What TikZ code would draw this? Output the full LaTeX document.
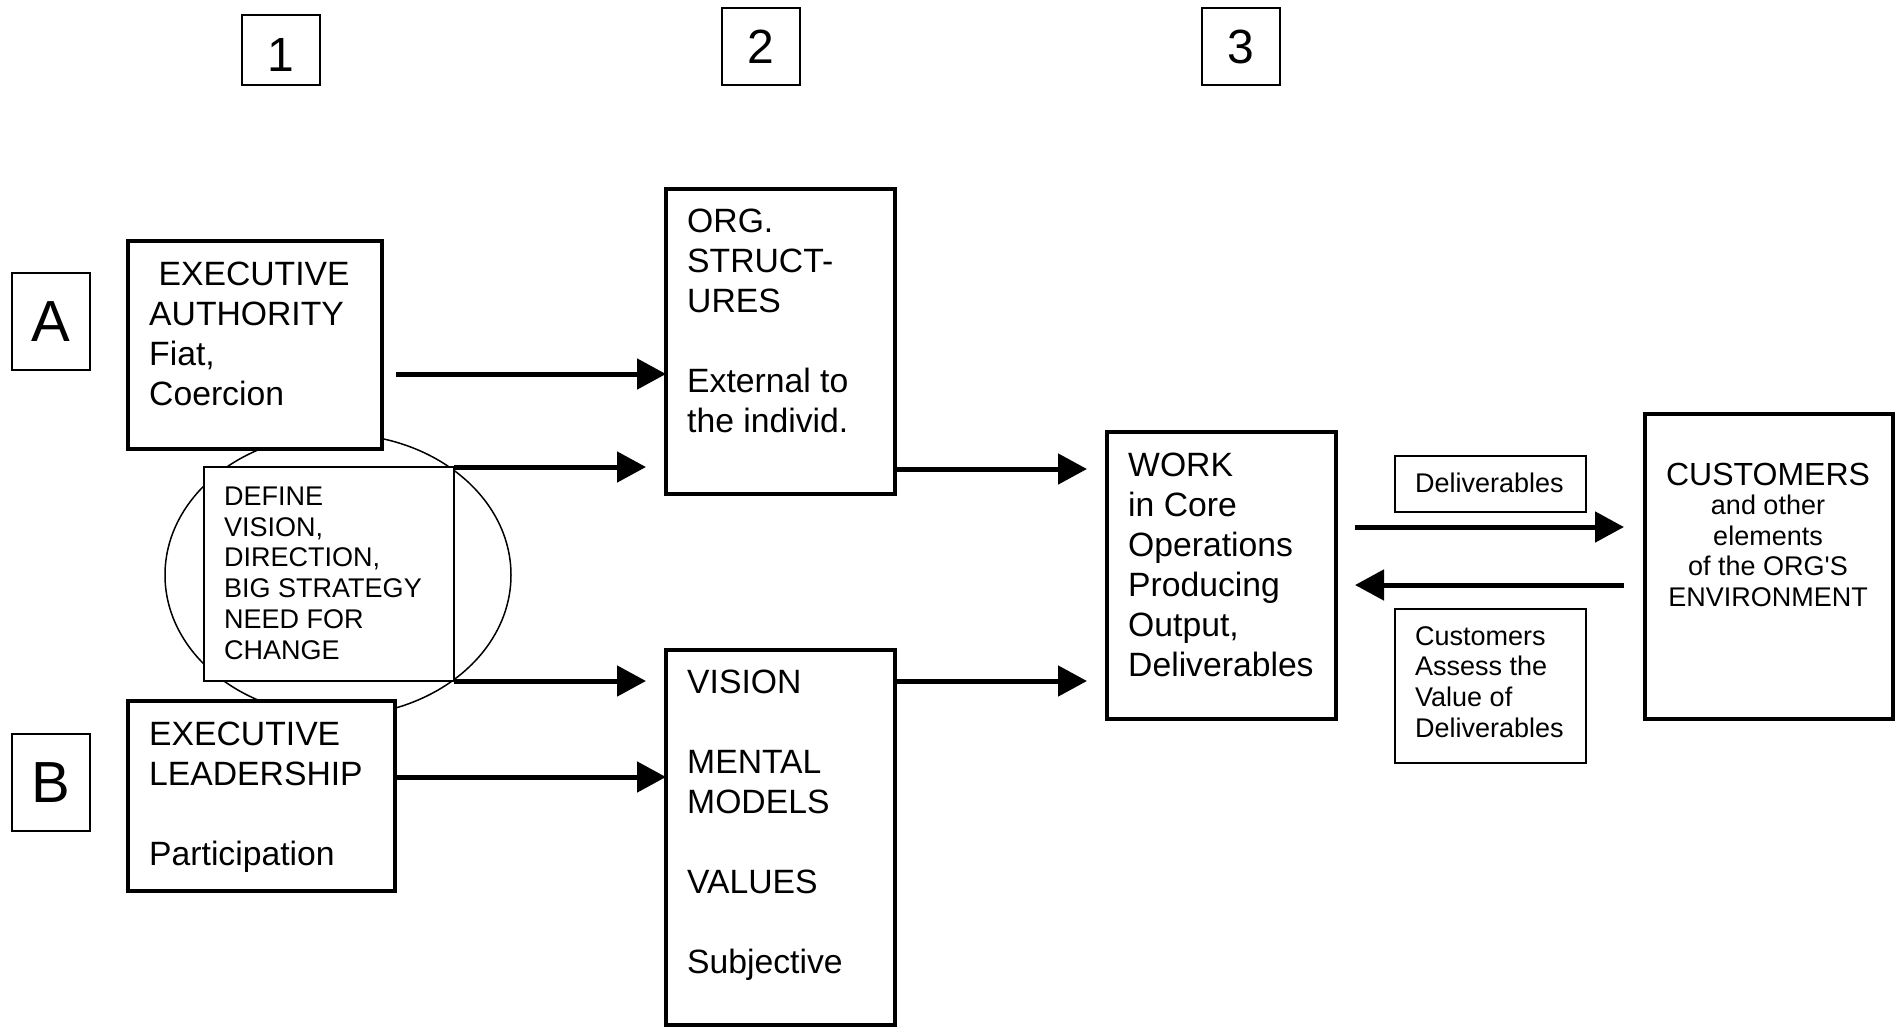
\documentclass[tikz,border=0pt]{standalone}
\usepackage{fontspec}
\setmainfont{Liberation Sans}[Ligatures=TeXOff]
\usetikzlibrary{arrows.meta,calc,shapes.geometric}

\newcommand\bigtxt{\fontsize{33.7pt}{40pt}\selectfont}
\newcommand\smalltxt{\fontsize{27pt}{30.8pt}\selectfont}
\newcommand\numtxt{\fontsize{48pt}{52pt}\selectfont}
\newcommand\lettxt{\fontsize{58pt}{62pt}\selectfont}

\tikzset{
  heavybox/.style={draw, line width=4pt, fill=white, inner sep=0pt, outer sep=0pt},
  lightbox/.style={draw, line width=1.5pt, fill=white, inner sep=0pt, outer sep=0pt},
  arr/.style={line width=5pt, -{Triangle[length=29pt,width=30pt]}},
  bodytext/.style={anchor=north west, inner sep=0pt, align=left, font=\bigtxt},
  smalltext/.style={anchor=north west, inner sep=0pt, align=left, font=\smalltxt},
}

\begin{document}
\begin{tikzpicture}[x=1pt,y=-1pt]
\useasboundingbox (0,0) rectangle (1900,1028);

% column and row markers
\node[lightbox, minimum width=78pt, minimum height=70pt, font=\numtxt] (n1) at (281,50) {\raisebox{-4pt}[34pt][0pt]{1}};
\node[lightbox, minimum width=78pt, minimum height=77pt, font=\numtxt] (n2) at (761,46.5) {2};
\node[lightbox, minimum width=78pt, minimum height=77pt, font=\numtxt] (n3) at (1241,46.5) {3};
\node[lightbox, minimum width=78pt, minimum height=97pt, font=\lettxt] (rA) at (51,321.5) {A};
\node[lightbox, minimum width=78pt, minimum height=97pt, font=\lettxt] (rB) at (51,782.5) {B};

% the vision oval with its boxed statement
\node[draw, ellipse, line width=1.5pt, inner sep=0pt, minimum width=346pt, minimum height=282pt] (oval) at (338,575) {};
\node[lightbox, minimum width=250pt, minimum height=214pt] (def) at (329,574) {};
\node[smalltext] (defT) at (224,480) {\rule{0pt}{25pt}DEFINE\\VISION,\\DIRECTION,\\BIG STRATEGY\\NEED FOR\\CHANGE};

% executive boxes
\node[heavybox, minimum width=254pt, minimum height=208pt] (ea) at (255,345) {};
\node[bodytext] (eaT) at (149,254) {\rule{0pt}{31pt}\hspace*{9.4pt}EXECUTIVE\\AUTHORITY\\Fiat,\\Coercion};
\node[heavybox, minimum width=267pt, minimum height=190pt] (el) at (261.5,796) {};
\node[bodytext] (elT) at (149,714) {\rule{0pt}{31pt}EXECUTIVE\\LEADERSHIP\\[40pt]Participation};

% structures and mental models
\node[heavybox, minimum width=229pt, minimum height=305pt] (org) at (780.5,341.5) {};
\node[bodytext] (orgT) at (687,201.5) {\rule{0pt}{31pt}ORG.\\STRUCT-\\URES\\[40pt]External to\\the individ.};
\node[heavybox, minimum width=229pt, minimum height=375pt] (vis) at (780.5,837.5) {};
\node[bodytext] (visT) at (687,662) {\rule{0pt}{31pt}VISION\\[40pt]MENTAL\\MODELS\\[40pt]VALUES\\[40pt]Subjective};

% core work
\node[heavybox, minimum width=229pt, minimum height=287pt] (work) at (1221.5,575.5) {};
\node[bodytext] (workT) at (1128,445) {\rule{0pt}{31pt}WORK\\in Core\\Operations\\Producing\\Output,\\Deliverables};

% customers
\node[heavybox, minimum width=248pt, minimum height=305pt] (cust) at (1769,566.5) {};
\node[anchor=north, inner sep=0pt, align=center, font=\fontsize{27pt}{30.5pt}\selectfont] (custT) at (1768,460)
  {\rule{0pt}{25pt}{\fontsize{32pt}{30.5pt}\selectfont CUSTOMERS}\\[-1pt]and other\\elements\\of the ORG'S\\ENVIRONMENT};

% exchange labels
\node[lightbox, minimum width=191pt, minimum height=56pt] (dl) at (1490.5,484) {};
\node[smalltext] (dlT) at (1415,467) {\rule{0pt}{25pt}Deliverables};
\node[lightbox, minimum width=191pt, minimum height=154pt] (ca) at (1490.5,686) {};
\node[smalltext, font=\fontsize{27pt}{30.7pt}\selectfont] (caT) at (1415,620) {\rule{0pt}{25pt}Customers\\Assess the\\Value of\\Deliverables};

% connectors
\coordinate (a1s) at (396,374);
\draw[arr] (a1s) -- (a1s -| org.west);
\draw[arr] (def.north east) -- ($(def.north east -| org.west)+(-20,0)$);
\draw[arr] (def.south east) -- ($(def.south east -| vis.west)+(-20,0)$);
\coordinate (b1s) at (395,777);
\draw[arr] (b1s) -- (b1s -| vis.west);
\coordinate (o1s) at (895,469);
\draw[arr] (o1s) -- ($(o1s -| work.west)+(-20,0)$);
\coordinate (v1s) at (895,681);
\draw[arr] (v1s) -- ($(v1s -| work.west)+(-20,0)$);
\coordinate (d1s) at (1355,527);
\draw[arr] (d1s) -- ($(d1s -| cust.west)+(-21,0)$);
\coordinate (r1s) at (1624,585);
\draw[arr] (r1s) -- ($(r1s -| work.east)+(19,0)$);
\end{tikzpicture}
\end{document}
